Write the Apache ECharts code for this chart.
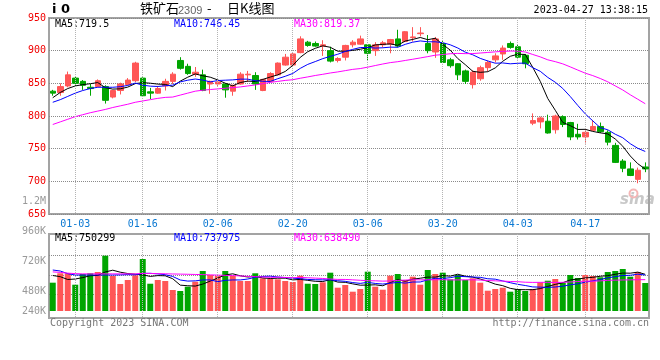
<!DOCTYPE html>
<html><head><meta charset="utf-8">
<script src="https://cdn.jsdelivr.net/npm/echarts@6/dist/echarts.min.js"></script>
<style>html,body{margin:0;padding:0;background:#fff}#c{width:660px;height:360px}</style>
</head><body><div id="c"></div>
<script>
// ---------- data ----------
const dates = ['12-28','12-29','12-30',
 '01-03','01-04','01-05','01-06','01-09','01-10','01-11','01-12','01-13',
 '01-16','01-17','01-18','01-19','01-20','01-30','01-31',
 '02-01','02-02','02-03','02-06','02-07','02-08','02-09','02-10',
 '02-13','02-14','02-15','02-16','02-17','02-20','02-21','02-22','02-23','02-24',
 '02-27','02-28','03-01','03-02','03-03','03-06','03-07','03-08','03-09','03-10',
 '03-13','03-14','03-15','03-16','03-17','03-20','03-21','03-22','03-23','03-24',
 '03-27','03-28','03-29','03-30','03-31','04-03','04-04','04-06','04-07',
 '04-10','04-11','04-12','04-13','04-14','04-17','04-18','04-19','04-20','04-21',
 '04-24','04-25','04-26','04-27'];
const opens  = [838,836,846,858,853,844,845,845,829,839,848,854,858,837,835,846,853,885,876,864,
                863,849,849,849,838,849,863,862,839,853,863,878,878,897,913,911,907,900,885,890,
                909,910,909,900,909,910,918,914,920,926,911,898,911,886,880,869,848,857,874,886,
                895,911,906,893,789,791,792,779,799,790,772,768,778,784,775,755,731,719,703,722];
const closes = [835,845,863,850,847,842,854,824,839,849,855,881,831,835,842,853,864,873,865,867,
                839,853,852,840,847,864,864,849,856,865,881,890,895,918,908,907,909,884,888,908,
                913,918,896,909,912,917,907,929,921,927,900,918,882,877,863,853,867,874,882,892,
                904,905,890,880,793,797,774,800,787,768,768,775,784,776,760,729,720,709,717,719];
const lows   = [831,831,844,845,840,831,844,819,827,833,847,852,830,826,834,839,849,871,863,860,
                838,834,846,828,831,848,852,840,838,852,862,877,877,896,906,906,892,882,882,885,
                905,909,885,892,905,896,905,913,914,922,896,889,881,874,855,849,842,854,868,882,
                886,903,887,873,786,781,773,773,783,763,764,758,777,774,755,728,714,708,697,714];
const highs  = [840,850,868,860,855,849,856,847,840,851,858,883,859,843,846,857,867,890,880,875,
                871,854,853,850,848,867,869,867,857,867,882,895,897,922,915,914,916,906,890,909,
                916,923,910,913,915,918,932,930,936,936,924,921,915,889,881,871,870,877,885,896,
                908,914,910,895,804,799,802,802,801,791,788,780,794,790,778,759,734,729,721,729];
const volumes = [572000,762000,762000,531000,747000,762000,788000,1117000,707000,545000,
                 626000,721000,1050000,551000,626000,606000,424000,404000,491000,592000,
                 808000,727000,707000,808000,707000,606000,606000,762000,661000,646000,
                 640000,606000,586000,713000,551000,545000,580000,774000,471000,525000,
                 390000,444000,794000,491000,430000,713000,747000,626000,693000,531000,
                 828000,747000,774000,640000,727000,626000,661000,572000,410000,444000,
                 471000,390000,444000,404000,444000,580000,612000,646000,572000,727000,
                 667000,727000,707000,681000,788000,808000,848000,693000,788000,566000];
const priceMa5Head  = [828,836,842,846];
const priceMa10Head = [821,825,830,835,839,842,844,844,844];
const priceMa30Head = [787,791,795,799,802,805,807.5,810,813,815.5,818,821,823,825,827,828.5,829,832,835,838,
                       839.5,840.5,841.5,842.5,843.5,844.5,846,847.5,849.5];
const volMa5Head  = [717000,693000,636000,646000];
const volMa10Head = [828000,808000,754000,727000,727000,727000,727000,727000,727000];
const volMa30Head = [790000,780000,765000,755000,750000,750000,750000,750000,750000,750000,
                     750000,750000,760000,758000,755000,752000,748000,745000,742000,738000,
                     735000,730000,725000,720000,715000,708000,700000,694000,687000];
const labelDates = ['01-03','01-16','02-06','02-20','03-06','03-20','04-03','04-17'];
const priceTicks = {min:650, max:950, step:50};
const volLabelTicks = {min:0, max:1200000, step:240000};
const headerMa = {ma5:'719.5', ma10:'746.45', ma30:'819.37'};
const headerVolMa = {ma5:'750299', ma10:'737975', ma30:'638490'};

// ---------- helpers ----------
function movingAvg(arr, n, head, digits){
  return arr.map((_, i) => {
    if (i < n - 1) return head[i];
    let s = 0; for (let k = i - n + 1; k <= i; k++) s += arr[k];
    return +(s / n).toFixed(digits);
  });
}
const RED = '#ff5656', GREEN = '#00a500';
const MONO = '"DejaVu Sans Mono", monospace';
const GRIDC = '#8a8a8a';
const kData = opens.map((o, i) => [o, closes[i], lows[i], highs[i]]);
const volData = volumes.map((v, i) => ({value: v, itemStyle: {color: closes[i] >= opens[i] ? RED : GREEN}}));
const dotted = {color: GRIDC, type: [1, 1], width: 1};

function fmtVol(v){
  if (v === 0) return '';
  const s = v >= 1000000 ? (v / 1000000) + 'M' : (v / 1000) + 'K';
  return v === volLabelTicks.step ? '{lift|' + s + '}' : s;
}
// vertical grid lines at the labelled dates, positioned by the category axis
function vGridSeries(xi, yi, yVal){
  return {
    type: 'custom', xAxisIndex: xi, yAxisIndex: yi, z: 5,
    data: labelDates.map(d => [dates.indexOf(d), yVal]),
    encode: {x: 0, y: 1},
    renderItem: function(params, api){
      const x = Math.round(api.coord([api.value(0), api.value(1)])[0] - 0.5) + 0.5;
      const cs = params.coordSys;
      return {type: 'line', shape: {x1: x, y1: cs.y, x2: x, y2: cs.y + cs.height},
              style: {stroke: '#b4b4b4', lineWidth: 1, lineDash: [1, 1]}};
    }
  };
}

const chart = echarts.init(document.getElementById('c'), null, {renderer: 'canvas'});
const lineBase = {type: 'line', symbol: 'none', smooth: false, animation: false, silent: true, z: 3};

chart.setOption({
  animation: false,
  backgroundColor: '#fff',
  grid: [
    {left: 49, top: 18, width: 600, height: 196, show: true, borderColor: '#a3a3a3', borderWidth: 2},
    {left: 49, top: 234, width: 600, height: 84, show: true, borderColor: '#a3a3a3', borderWidth: 2},
    {left: 49, top: 201, width: 600, height: 151, show: false},
    {left: 49, top: 255.5, width: 600, height: 39, show: false}
  ],
  xAxis: [
    {type: 'category', gridIndex: 0, data: dates, boundaryGap: true,
     axisLine: {show: false}, axisTick: {show: false}, splitLine: {show: false},
     axisLabel: {interval: (i) => labelDates.includes(dates[i]), color: '#0a78d2', fontFamily: MONO, fontSize: 10, margin: 5}},
    {type: 'category', gridIndex: 1, data: dates, boundaryGap: true,
     axisLine: {show: false}, axisTick: {show: false}, axisLabel: {show: false}, splitLine: {show: false}},
    {type: 'category', gridIndex: 2, data: dates, show: false},
    {type: 'category', gridIndex: 3, data: dates, show: false}
  ],
  yAxis: [
    {type: 'value', gridIndex: 0, min: priceTicks.min, max: priceTicks.max, interval: priceTicks.step,
     axisLine: {show: false}, axisTick: {show: false},
     axisLabel: {color: '#f00000', fontFamily: MONO, fontSize: 10, margin: 3},
     splitLine: {show: true, lineStyle: dotted}},
    {type: 'value', gridIndex: 1, min: -141400, max: 1555400,
     axisLine: {show: false}, axisTick: {show: false}, axisLabel: {show: false}, splitLine: {show: false}},
    {type: 'value', gridIndex: 2, min: volLabelTicks.min, max: volLabelTicks.max, interval: volLabelTicks.step,
     axisLine: {show: false}, axisTick: {show: false}, splitLine: {show: false},
     axisLabel: {color: '#999', fontFamily: MONO, fontSize: 10, margin: 3, formatter: fmtVol,
       rich: {lift: {color: '#999', fontFamily: MONO, fontSize: 10, padding: [0, 0, 21, 0]}}}},
    {type: 'value', gridIndex: 3, min: 0, max: 2, interval: 1, z: 1,
     axisLine: {show: false}, axisTick: {show: false}, axisLabel: {show: false},
     splitLine: {show: true, lineStyle: dotted}}
  ],
  series: [
    {type: 'candlestick', xAxisIndex: 0, yAxisIndex: 0, data: kData, barWidth: 6, animation: false, z: 2,
     itemStyle: {color: RED, color0: GREEN, borderColor: RED, borderColor0: GREEN, borderWidth: 1}},
    Object.assign({}, lineBase, {xAxisIndex: 0, yAxisIndex: 0, data: movingAvg(closes, 5, priceMa5Head, 2), lineStyle: {color: '#000', width: 1}}),
    Object.assign({}, lineBase, {xAxisIndex: 0, yAxisIndex: 0, data: movingAvg(closes, 10, priceMa10Head, 2), lineStyle: {color: '#0000ff', width: 1}}),
    Object.assign({}, lineBase, {xAxisIndex: 0, yAxisIndex: 0, data: movingAvg(closes, 30, priceMa30Head, 2), lineStyle: {color: '#ff00ff', width: 1}}),
    {type: 'bar', xAxisIndex: 1, yAxisIndex: 1, data: volData, barWidth: 6, animation: false, silent: true, z: 2},
    Object.assign({}, lineBase, {xAxisIndex: 1, yAxisIndex: 1, data: movingAvg(volumes, 5, volMa5Head, 0), lineStyle: {color: '#000', width: 1}}),
    Object.assign({}, lineBase, {xAxisIndex: 1, yAxisIndex: 1, data: movingAvg(volumes, 10, volMa10Head, 0), lineStyle: {color: '#0000ff', width: 1}}),
    Object.assign({}, lineBase, {xAxisIndex: 1, yAxisIndex: 1, data: movingAvg(volumes, 30, volMa30Head, 0), lineStyle: {color: '#ff00ff', width: 1}}),
    Object.assign({}, lineBase, {xAxisIndex: 2, yAxisIndex: 2, data: []}),
    Object.assign({}, lineBase, {xAxisIndex: 3, yAxisIndex: 3, data: []}),
    vGridSeries(0, 0, priceTicks.min),
    vGridSeries(1, 1, 0)
  ],
  graphic: [
    {type: 'text', left: 52, top: 3, style: {text: 'i 0', fill: '#000', font: 'bold 13px "DejaVu Sans"'}},
    {type: 'text', left: 140, top: 2, style: {text: '铁矿石', fill: '#000', font: '13px "Noto Sans CJK SC"'}},
    {type: 'text', left: 178, top: 5, style: {text: '2309', fill: '#666', font: '11px "Liberation Sans"'}},
    {type: 'text', left: 207, top: 2, style: {text: '-', fill: '#000', font: '13px "Noto Sans CJK SC"'}},
    {type: 'text', left: 227, top: 2, style: {text: '日K线图', fill: '#000', font: '13px "Noto Sans CJK SC"'}},
    {type: 'text', right: 12, top: 5, style: {text: '2023-04-27 13:38:15', fill: '#000', font: '10px ' + MONO}},
    {type: 'text', left: 55, top: 19, style: {text: 'MA5:' + headerMa.ma5, fill: '#000', font: '10px ' + MONO}},
    {type: 'text', left: 174, top: 19, style: {text: 'MA10:' + headerMa.ma10, fill: '#0000ff', font: '10px ' + MONO}},
    {type: 'text', left: 294, top: 19, style: {text: 'MA30:' + headerMa.ma30, fill: '#ff00ff', font: '10px ' + MONO}},
    {type: 'text', left: 55, top: 233, style: {text: 'MA5:' + headerVolMa.ma5, fill: '#000', font: '10px ' + MONO}},
    {type: 'text', left: 174, top: 233, style: {text: 'MA10:' + headerVolMa.ma10, fill: '#0000ff', font: '10px ' + MONO}},
    {type: 'text', left: 294, top: 233, style: {text: 'MA30:' + headerVolMa.ma30, fill: '#ff00ff', font: '10px ' + MONO}},
    {type: 'text', left: 50, top: 318, style: {text: 'Copyright 2023 SINA.COM', fill: '#777', font: '10px ' + MONO}},
    {type: 'text', right: 11, top: 318, style: {text: 'http://finance.sina.com.cn', fill: '#777', font: '10px ' + MONO}},
    {type: 'text', left: 620, top: 193, z: -1, style: {text: 'sina', fill: '#c8c8c8', font: 'italic bold 15px "DejaVu Sans"'}},
    {type: 'circle', left: 627, top: 187, z: -1, shape: {r: 4}, style: {fill: 'none', stroke: '#f4b6b6', lineWidth: 2}}
  ]
});
</script>
</body></html>
